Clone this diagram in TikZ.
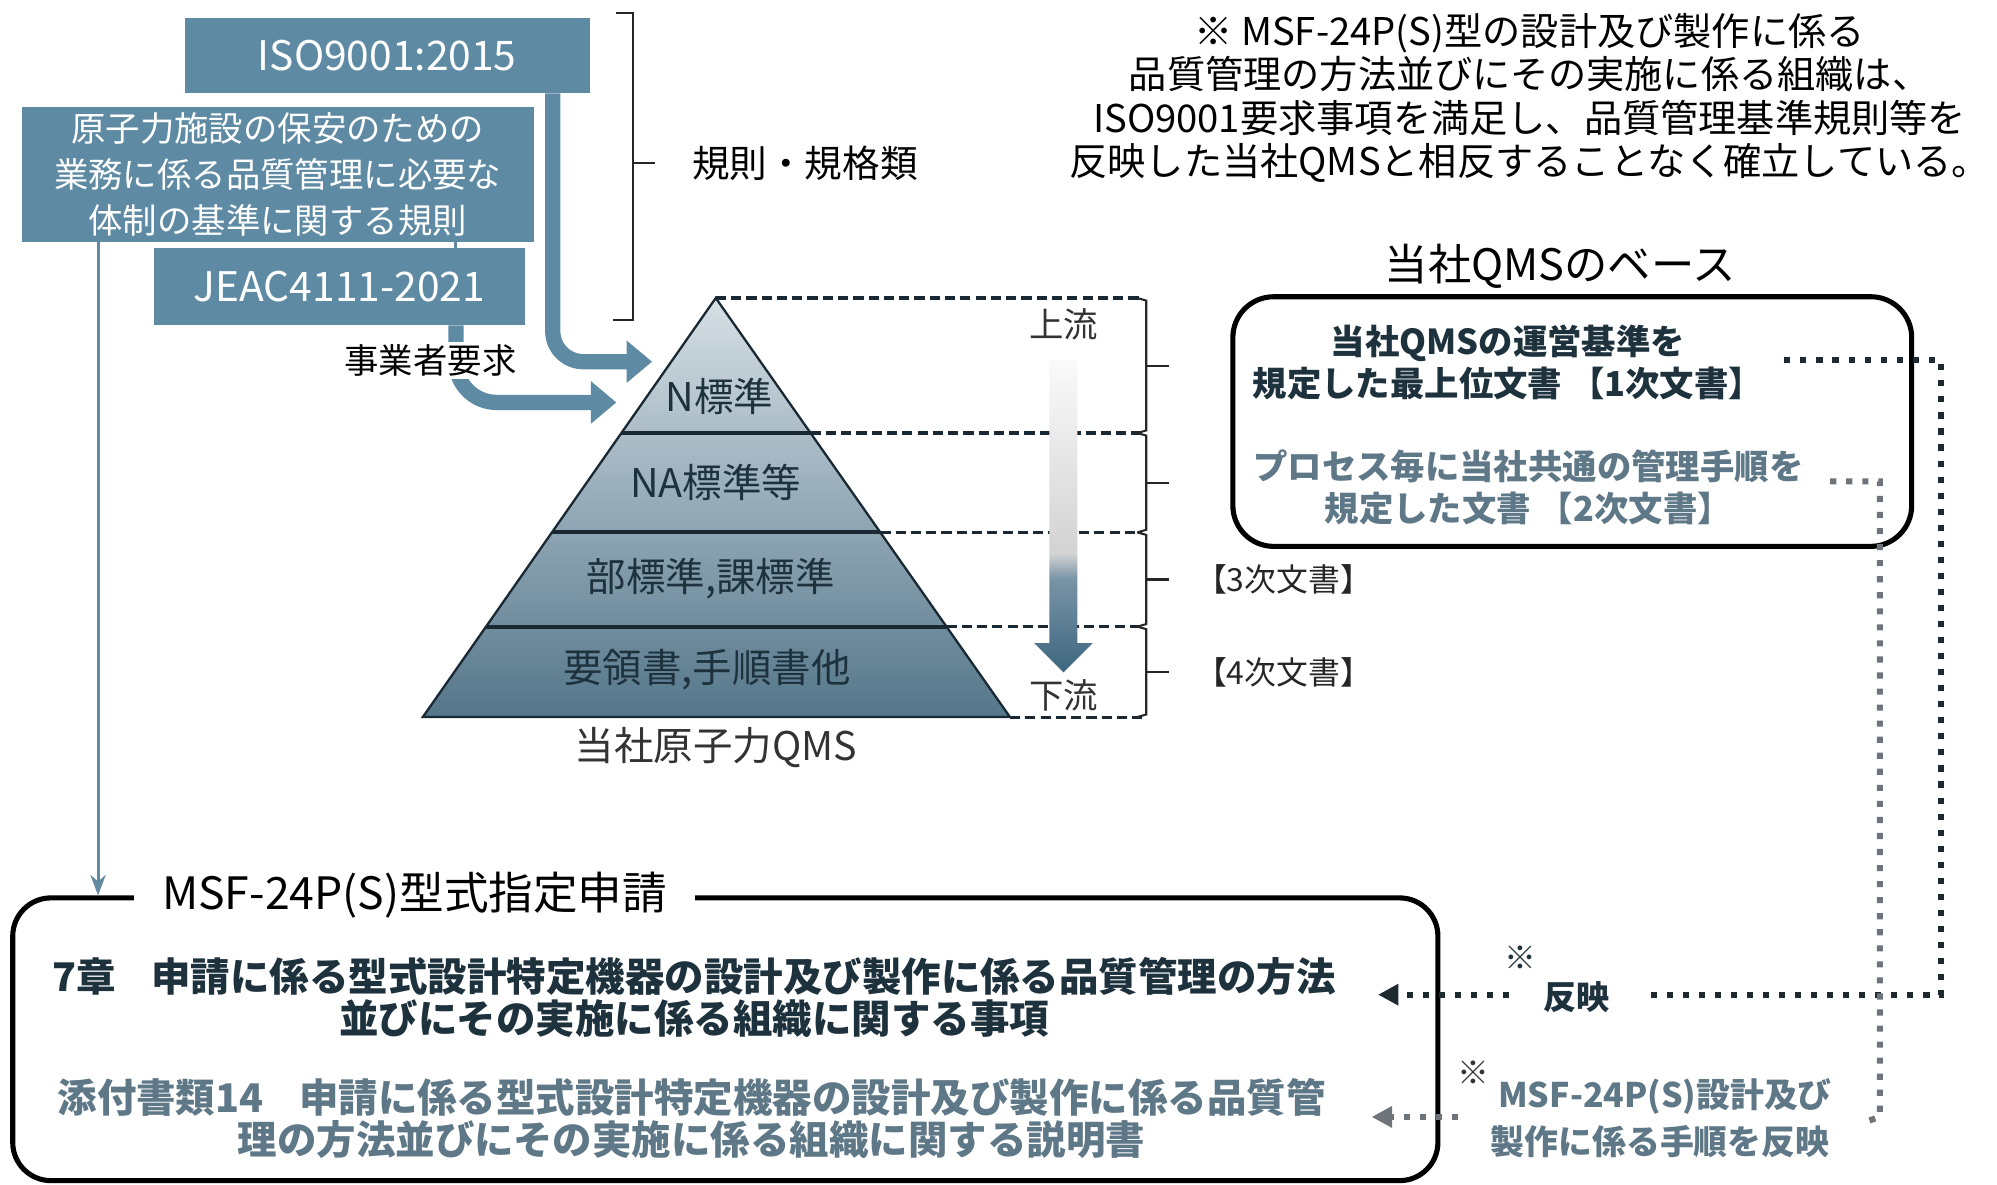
\documentclass[tikz,border=0pt]{standalone}
\usepackage{fontspec}
\setmainfont{Noto Sans CJK JP}
\usetikzlibrary{arrows.meta,calc}
\newcommand\setfs[2]{\fontsize{#1}{#2}\selectfont}
\definecolor{boxblue}{RGB}{94,139,163}
\definecolor{darktxt}{RGB}{30,50,62}
\definecolor{graytxt}{RGB}{95,120,135}
\definecolor{pyrtop}{RGB}{214,223,229}
\definecolor{pyrbot}{RGB}{84,118,138}
\definecolor{flowdark}{RGB}{62,102,128}
\definecolor{dotdark}{RGB}{30,42,48}
\definecolor{dotgray}{RGB}{110,116,122}
\definecolor{pyrline}{RGB}{25,40,50}
\pgfdeclareverticalshading{flowshade}{100bp}{color(0bp)=(flowdark); color(25bp)=(flowdark); color(40bp)=(flowdark!70!white); color(44bp)=(gray!35); color(75bp)=(white!96!gray); color(100bp)=(white!96!gray)}
\tikzset{
  bluebox/.style={fill=boxblue, text=white, inner sep=0pt},
  thickarrow/.style={draw=boxblue, line width=6pt, -{Triangle[length=10pt,width=16pt]}, rounded corners=12pt},
  thinconn/.style={draw=boxblue!85!gray, line width=1.2pt},
  bracket/.style={draw=black!85, line width=0.8pt},
  dashline/.style={draw=pyrline, line width=1.2pt, dash pattern=on 4pt off 2pt},
  layerline/.style={draw=pyrline, line width=1.5pt},
  pyrlabel/.style={text=darktxt, font=\setfs{15.5}{18}},
  dotdk/.style={draw=dotdark, line width=2.4pt, dash pattern=on 2.4pt off 3.9pt},
  dotgr/.style={draw=dotgray, line width=2.4pt, dash pattern=on 2.4pt off 3.9pt},
  plain/.style={inner sep=0pt},
}
\begin{document}
\begin{tikzpicture}[x=0.5pt,y=-0.5pt]
\useasboundingbox[fill=white] (0,0) rectangle (1568,930);

% ---- rule boxes ----
\node[bluebox, minimum width=159pt, minimum height=29.5pt, font=\setfs{16}{18}] (iso) at (304,43.5) {ISO9001:2015};
\node[bluebox, minimum width=201pt, minimum height=53pt, align=center, font=\setfs{13.5}{18}] (gen) at (218,137) {原子力施設の保安のための\\業務に係る品質管理に必要な\\体制の基準に関する規則};
\node[bluebox, minimum width=145.5pt, minimum height=30pt, font=\setfs{16}{18}] (jeac) at (266.5,225) {JEAC4111-2021};

% bracket for rules
\draw[bracket] (484,10) -- (497,10) -- (497,251) -- (481,251);
\draw[bracket] (497,128) -- (514,128);
\node[plain, font=\setfs{14.75}{17}] (rules) at (632,128) {規則・規格類};

% ---- pyramid ----
\coordinate (apex) at (562,234);
\coordinate (pbl) at (332,563);
\coordinate (pbr) at (793,563);
\coordinate (l1L) at (487.9,340); \coordinate (l1R) at (636.4,340);
\coordinate (l2L) at (433.4,418); \coordinate (l2R) at (691.2,418);
\coordinate (l3L) at (381.6,492); \coordinate (l3R) at (743.1,492);
\shade[top color=pyrtop, bottom color=pyrbot] (apex) -- (pbr) -- (pbl) -- cycle;
\draw[layerline] (l1L) -- (l1R);
\draw[layerline] (l2L) -- (l2R);
\draw[layerline] (l3L) -- (l3R);
\draw[draw=pyrline, line width=0.9pt] (apex) -- (pbr) -- (pbl) -- cycle;

\coordinate (d0) at (897,234);
\coordinate (d1) at (897,340);
\coordinate (d2) at (897,418);
\coordinate (d3) at (897,492);
\coordinate (d4) at (897,563);
\draw[dashline] (apex) -- (d0);
\draw[dashline] (l1R) -- (d1);
\draw[dashline] (l2R) -- (d2);
\draw[dashline] (l3R) -- (d3);
\draw[dashline] (pbr) -- (d4);
\foreach \t/\b in {234/340, 340/418, 418/492, 492/563}{
  \draw[bracket] (893,\t) -- (900,\t+2) -- (900,\b-2) -- (893,\b);
  \draw[bracket] (900,{(\t+\b)/2}) -- (918,{(\t+\b)/2});
}

\node[pyrlabel] (lay1) at (565,311) {N標準};
\node[pyrlabel] (lay2) at (562,379) {NA標準等};
\node[pyrlabel] (lay3) at (558,454) {部標準,課標準};
\node[pyrlabel] (lay4) at (555,526) {要領書,手順書他};
\node[plain, text=black!80, font=\setfs{15.5}{18}] (pyrname) at (562,587) {当社原子力QMS};

% flow arrow
\shade[shading=flowshade] (824,283) -- (846,283) -- (846,505) -- (858,505) -- (835,528) -- (812,505) -- (824,505) -- cycle;
\node[plain, text=black!80, font=\setfs{13.5}{16}] (up) at (835,255) {上流};
\node[plain, text=black!80, font=\setfs{13.5}{16}] (down) at (835,546) {下流};

\node[plain, anchor=west, text=black!85, font=\setfs{12.5}{15}] (doc3) at (938,455) {【3次文書】};
\node[plain, anchor=west, text=black!85, font=\setfs{12.5}{15}] (doc4) at (938,528) {【4次文書】};

% ---- thick arrows ----
\coordinate (ax) at (434,0);
\coordinate (ntip1) at (512,284);
\draw[thickarrow] (iso.south -| ax) |- (ntip1);
\coordinate (bx) at (358,0);
\coordinate (ntip2) at (484,316);
\draw[thickarrow, rounded corners=16pt] (jeac.south -| bx) |- (ntip2);
\draw[thinconn] (gen.south -| bx) -- (jeac.north -| bx);
\node[fill=white, inner sep=1pt, font=\setfs{13.5}{16}] (req) at (338,283) {事業者要求};

% ---- note ----
\node[plain, align=center, font=\setfs{15}{17}] (note) at (1201,77) {※ MSF-24P(S)型の設計及び製作に係る\\品質管理の方法並びにその実施に係る組織は、\\ISO9001要求事項を満足し、品質管理基準規則等を\\反映した当社QMSと相反することなく確立している。};

% ---- QMS base ----
\node[plain, font=\setfs{17}{20}] (qmsbase) at (1225,209) {当社QMSのベース};
\node[draw, line width=2pt, rounded corners=16pt, minimum width=266.5pt, minimum height=98pt] (qms) at (1234.5,331) {};
\node[plain, align=center, text=darktxt, font=\setfs{13.5}{16.5}\bfseries] (qms1) at (1184,284.5) {当社QMSの運営基準を\\規定した最上位文書 【1次文書】};
\node[plain, align=center, text=graytxt, font=\setfs{13.5}{16.5}\bfseries] (qms2) at (1200,382.5) {プロセス毎に当社共通の管理手順を\\規定した文書 【2次文書】};

% ---- MSF box ----
\node[draw, line width=2pt, rounded corners=15pt, minimum width=559.5pt, minimum height=111pt] (msf) at (569.5,816) {};
\node[fill=white, inner xsep=11pt, inner ysep=1pt, font=\setfs{17.5}{20}] (msftitle) at (325.5,703) {MSF-24P(S)型式指定申請};
\node[plain, align=center, text=darktxt, font=\setfs{15.5}{16.5}\bfseries] (ch7) at (545,783) {7章\hspace{0.9em}申請に係る型式設計特定機器の設計及び製作に係る品質管理の方法\\並びにその実施に係る組織に関する事項};
\node[plain, align=center, text=graytxt, font=\setfs{15.5}{16.5}\bfseries] (att14) at (543,878) {添付書類14\hspace{0.9em}申請に係る型式設計特定機器の設計及び製作に係る品質管\\理の方法並びにその実施に係る組織に関する説明書};

% thin arrow to MSF
\coordinate (cx) at (77,0);
\draw[thinconn, -{Stealth[length=8pt,width=6pt]}] (gen.south -| cx) -- (msf.north -| cx);

% ---- dotted reflections ----
\coordinate (o1) at (1401,283);
\coordinate (o2) at (1524,283);
\coordinate (o3) at (1524,781);
\coordinate (o4) at (1292,781);
\draw[dotdk] (o1) -- (o2) -- (o3) -- (o4);
\coordinate (a1s) at (1185,781);
\coordinate (a1t) at (1082,781);
\draw[dotdk, -{Triangle[length=8pt,width=8pt]}] (a1s) -- (a1t);
\node[plain, text=darktxt, font=\setfs{12.5}{15}] (ref1star) at (1194,752) {※};
\node[plain, text=darktxt, font=\setfs{13}{15}\bfseries] (ref1) at (1238,783) {反映};

\coordinate (i1) at (1437,378);
\coordinate (i2) at (1476,378);
\coordinate (i3) at (1476,877);
\coordinate (i4) at (1467,880);
\draw[dotgr] (i1) -- (i2) -- (i3) -- (i4);
\coordinate (a2s) at (1145,877);
\coordinate (a2t) at (1077,877);
\draw[dotgr, -{Triangle[length=8pt,width=8pt]}] (a2s) -- (a2t);
\node[plain, text=black!80, font=\setfs{12.5}{15}] (ref2star) at (1157,842) {※};
\node[plain, anchor=west, text=graytxt, font=\setfs{13.3}{16}\bfseries] (ref2a) at (1176,861) {MSF-24P(S)設計及び};
\node[plain, anchor=west, text=graytxt, font=\setfs{13.3}{16}\bfseries] (ref2b) at (1170,896) {製作に係る手順を反映};
\end{tikzpicture}
\end{document}
